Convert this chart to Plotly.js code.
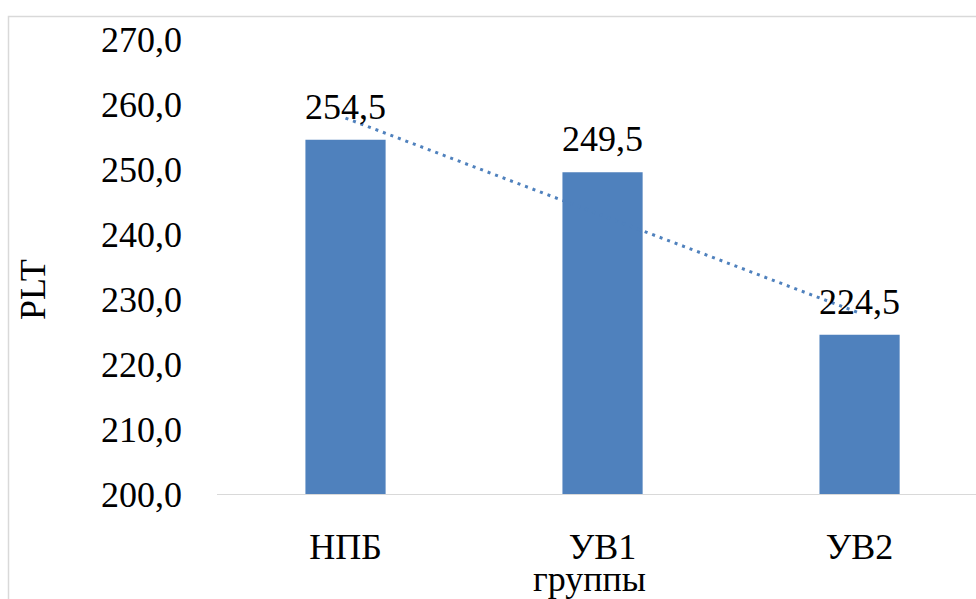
<!DOCTYPE html>
<html>
<head>
<meta charset="utf-8">
<script src="https://cdn.plot.ly/plotly-3.0.1.min.js"></script>
<style>
  html, body { margin: 0; padding: 0; background: #ffffff; overflow: hidden; }
  #chart { width: 976px; height: 599px; }
</style>
</head>
<body>
<div id="chart"></div>
<script>
// PLT by group
const groups = ['НПБ', 'УВ1', 'УВ2'];
const pltValues = [254.5, 249.5, 224.5];
const yTickValues = [200, 210, 220, 230, 240, 250, 260, 270];

const FONT = 'Liberation Serif';
const BLUE = '#4f81bd';

function fmt(v) {
  return v.toFixed(1).replace('.', ',');
}

// Linear (least-squares) trend over the category index
function linearTrend(values) {
  const n = values.length;
  const xs = values.map((_, i) => i);
  const mx = xs.reduce((a, b) => a + b, 0) / n;
  const my = values.reduce((a, b) => a + b, 0) / n;
  let sxy = 0, sxx = 0;
  for (let i = 0; i < n; i++) {
    sxy += (xs[i] - mx) * (values[i] - my);
    sxx += (xs[i] - mx) * (xs[i] - mx);
  }
  const slope = sxy / sxx;
  const intercept = my - slope * mx;
  return xs.map(x => intercept + slope * x);
}

const bars = {
  type: 'bar',
  x: groups,
  y: pltValues,
  width: 0.312,
  marker: { color: BLUE, line: { width: 0 } },
  hoverinfo: 'x+y'
};

const trend = {
  type: 'scatter',
  mode: 'lines',
  x: groups,
  y: linearTrend(pltValues),
  line: { color: BLUE, width: 3, dash: '3px,5px' },
  hoverinfo: 'skip'
};

const valueLabels = groups.map((g, i) => ({
  x: g,
  y: pltValues[i],
  xref: 'x',
  yref: 'y',
  text: fmt(pltValues[i]),
  showarrow: false,
  yanchor: 'bottom',
  yshift: 11,
  font: { family: FONT, size: 36, color: '#000000' }
}));

const layout = {
  width: 976,
  height: 599,
  margin: { l: 217, r: 0, t: 39, b: 105, pad: 0 },
  paper_bgcolor: '#ffffff',
  plot_bgcolor: '#ffffff',
  separators: ', ',
  showlegend: false,
  font: { family: FONT, size: 36, color: '#000000' },
  xaxis: {
    type: 'category',
    range: [-0.5, 2.453],
    showline: true,
    linecolor: '#d9d9d9',
    linewidth: 1,
    showgrid: false,
    zeroline: false,
    ticks: '',
    ticklabelstandoff: 21,
    tickfont: { family: FONT, size: 36, color: '#000000' },
    fixedrange: true
  },
  yaxis: {
    range: [200, 270],
    tickvals: yTickValues,
    ticktext: yTickValues.map(fmt),
    showline: false,
    showgrid: false,
    zeroline: false,
    ticks: '',
    ticklabelstandoff: 34,
    tickfont: { family: FONT, size: 36, color: '#000000' },
    fixedrange: true
  },
  annotations: valueLabels.concat([
    {
      text: 'PLT',
      xref: 'paper', yref: 'paper',
      x: (33 - 217) / 759, y: (494 - 290) / 455,
      xanchor: 'center', yanchor: 'middle',
      textangle: -90,
      showarrow: false,
      font: { family: FONT, size: 36, color: '#000000' }
    },
    {
      text: 'группы',
      xref: 'paper', yref: 'paper',
      x: (589 - 217) / 759, y: (494 - 579) / 455,
      xanchor: 'center', yanchor: 'middle',
      showarrow: false,
      font: { family: FONT, size: 36, color: '#000000' }
    }
  ]),
  shapes: [
    {
      type: 'rect',
      xref: 'paper', yref: 'paper',
      x0: (8.5 - 217) / 759, x1: 1.2,
      y0: -0.4, y1: (494 - 16.5) / 455,
      line: { color: '#d9d9d9', width: 1.5 },
      fillcolor: 'rgba(0,0,0,0)',
      layer: 'below'
    }
  ]
};

Plotly.newPlot('chart', [bars, trend], layout, { displayModeBar: false, staticPlot: true });
</script>
</body>
</html>
